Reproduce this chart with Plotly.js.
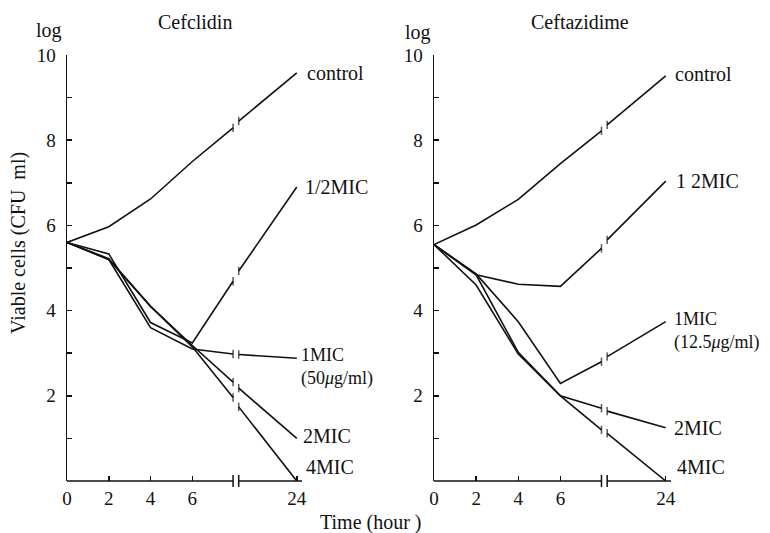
<!DOCTYPE html>
<html><head><meta charset="utf-8">
<script src="https://cdn.plot.ly/plotly-3.0.1.min.js"></script>
<style>html,body{margin:0;padding:0;background:#fff}</style>
</head><body><div id="chart" style="width:770px;height:533px"></div>
<script>
// ---- data ----
const hours = [0, 2, 4, 6, 24];
const hourLabels = ['0', '2', '4', '6', '24'];
const seriesNames = ['control', '1/2MIC', '1MIC', '2MIC', '4MIC'];

// Cefclidin (log CFU/ml)
const cefControl = [5.6, 5.97, 6.62, 7.5, 9.58];
const cefHalfMIC = [5.6, 5.33, 3.72, 3.24, 6.9];
const cef1MIC    = [5.6, 5.2, 3.6, 3.1, 2.88];
const cef2MIC    = [5.6, 5.22, 4.1, 3.18, 1.0];
const cef4MIC    = [5.6, 5.2, 4.1, 3.15, 0.0];
// values where each line meets the axis break (left side, right side)
const cefBreakLeft  = [8.29, 4.69, 2.98, 2.32, 1.96];
const cefBreakRight = [8.45, 4.93, 2.97, 2.18, 1.74];
const cefLabels = ['control', '1/2MIC', '1MIC<br>(50<i>μ</i>g/ml)', '2MIC', '4MIC'];

// Ceftazidime (log CFU/ml)
const cazControl = [5.55, 6.01, 6.61, 7.45, 9.51];
const cazHalfMIC = [5.55, 4.84, 4.62, 4.57, 7.04];
const caz1MIC    = [5.55, 4.86, 3.74, 2.29, 3.74];
const caz2MIC    = [5.55, 4.84, 3.02, 2.0, 1.25];
const caz4MIC    = [5.55, 4.6, 2.98, 2.0, 0.0];
const cazBreakLeft  = [8.22, 5.46, 2.8, 1.71, 1.2];
const cazBreakRight = [8.36, 5.66, 2.92, 1.64, 1.12];
const cazLabels = ['control', '1 2MIC', '1MIC<br>(12.5<i>μ</i>g/ml)', '2MIC', '4MIC'];

const yTickVals = [1, 2, 3, 4, 5, 6, 7, 8, 9, 10];
const yTickText = ['', '2', '', '4', '', '6', '', '8', '', '10'];

// ---- broken time axis: 0-6 h linear, then a break, then 24 h ----
const AX_END = 11.25;
const BREAK_L = 7.95, BREAK_R = 8.22;
function axisPos(h) { return h <= 6 ? h : 11; }

const FONT = 'Liberation Serif, Times New Roman, serif';
const INK = '#111';

function seriesTrace(vals, bL, bR, xa, ya) {
  const p = hours.map(axisPos);
  return {
    type: 'scatter', mode: 'lines+markers', xaxis: xa, yaxis: ya,
    x: [p[0], p[1], p[2], p[3], BREAK_L, null, BREAK_R, p[4]],
    y: [vals[0], vals[1], vals[2], vals[3], bL, null, bR, vals[4]],
    connectgaps: false, cliponaxis: false, hoverinfo: 'skip', showlegend: false,
    line: {color: INK, width: 1.6},
    marker: {symbol: 'line-ns-open', size: [0, 0, 0, 0, 6, 0, 6, 0],
             color: INK, line: {color: INK, width: 1.5}}
  };
}

const cefSeries = [cefControl, cefHalfMIC, cef1MIC, cef2MIC, cef4MIC];
const cazSeries = [cazControl, cazHalfMIC, caz1MIC, caz2MIC, caz4MIC];
const traces = [];
cefSeries.forEach((s, i) => traces.push(seriesTrace(s, cefBreakLeft[i], cefBreakRight[i], 'x', 'y')));
cazSeries.forEach((s, i) => traces.push(seriesTrace(s, cazBreakLeft[i], cazBreakRight[i], 'x2', 'y2')));

function xAxis(domain, anchor) {
  return {
    domain: domain, anchor: anchor, range: [0, AX_END], showline: false, zeroline: false,
    showgrid: false, tickmode: 'array', tickvals: hours.map(axisPos), ticktext: hourLabels,
    ticks: 'inside', ticklen: 5, tickwidth: 1.5, tickcolor: INK,
    tickfont: {family: FONT, size: 19, color: INK}, ticklabelstandoff: 4, fixedrange: true
  };
}
function yAxis(anchor) {
  return {
    domain: [52 / 533, 478 / 533], anchor: anchor, range: [0, 10], showline: true,
    linecolor: INK, linewidth: 1.5, zeroline: false, showgrid: false,
    tickmode: 'array', tickvals: yTickVals, ticktext: yTickText,
    ticks: 'inside', ticklen: 5, tickwidth: 1.5, tickcolor: INK,
    tickfont: {family: FONT, size: 19, color: INK}, ticklabelstandoff: 6, fixedrange: true
  };
}

function breakShapes(xs, ys) {
  const xr = xs + ' domain', yr = ys + ' domain';
  const l = BREAK_L / AX_END, r = BREAK_R / AX_END, h = 0.014;
  const ln = {color: INK, width: 1.5};
  return [
    {type: 'line', xref: xr, yref: yr, x0: 0, x1: l, y0: 0, y1: 0, line: ln},
    {type: 'line', xref: xr, yref: yr, x0: r, x1: 1, y0: 0, y1: 0, line: ln},
    {type: 'line', xref: xr, yref: yr, x0: l, x1: l, y0: -h, y1: h, line: ln},
    {type: 'line', xref: xr, yref: yr, x0: r, x1: r, y0: -h, y1: h, line: ln}
  ];
}

function labelAnn(text, x, y, xa, ya, xshift, yshift, size) {
  return {text: text, x: x, y: y, xref: xa, yref: ya, xanchor: 'left', yanchor: 'middle',
          align: 'left', xshift: xshift, yshift: yshift, showarrow: false,
          font: {family: FONT, size: size || 20, color: INK}};
}
function paperAnn(text, px, py, extra) {
  return Object.assign({text: text, x: px / 770, y: 1 - py / 533, xref: 'paper', yref: 'paper',
          xanchor: 'center', yanchor: 'middle', showarrow: false,
          font: {family: FONT, size: 20, color: INK}}, extra || {});
}

const endX = axisPos(24);
const annotations = [
  paperAnn('Cefclidin', 195, 22),
  paperAnn('Ceftazidime', 580, 22),
  paperAnn('log', 49, 30),
  paperAnn('log', 418, 32),
  paperAnn('Viable cells (CFU  ml)', 18, 243, {textangle: -90}),
  paperAnn('Time (hour )', 370, 522),
  // Cefclidin labels
  labelAnn(cefLabels[0], endX, cefControl[4], 'x', 'y', 8, 0),
  labelAnn(cefLabels[1], endX, cefHalfMIC[4], 'x', 'y', 6, 0),
  labelAnn(cefLabels[2], endX, cef1MIC[4], 'x', 'y', 2, -9, 18),
  labelAnn(cefLabels[3], endX, cef2MIC[4], 'x', 'y', 4, 2),
  labelAnn(cefLabels[4], endX, cef4MIC[4], 'x', 'y', 7, 14),
  // Ceftazidime labels
  labelAnn(cazLabels[0], endX, cazControl[4], 'x2', 'y2', 7, 2),
  labelAnn(cazLabels[1], endX, cazHalfMIC[4], 'x2', 'y2', 8, 0),
  labelAnn(cazLabels[2], endX, caz1MIC[4], 'x2', 'y2', 6, -9, 18),
  labelAnn(cazLabels[3], endX, caz2MIC[4], 'x2', 'y2', 6, 0),
  labelAnn(cazLabels[4], endX, caz4MIC[4], 'x2', 'y2', 9, 14)
];

const layout = {
  width: 770, height: 533, margin: {l: 0, r: 0, t: 0, b: 0, pad: 0},
  paper_bgcolor: '#fff', plot_bgcolor: 'rgba(0,0,0,0)', showlegend: false,
  font: {family: FONT, color: INK},
  xaxis: xAxis([67 / 770, 302 / 770], 'y'),
  yaxis: yAxis('x'),
  xaxis2: xAxis([434 / 770, 671 / 770], 'y2'),
  yaxis2: yAxis('x2'),
  shapes: breakShapes('x', 'y').concat(breakShapes('x2', 'y2')),
  annotations: annotations
};

Plotly.newPlot('chart', traces, layout, {staticPlot: true, displayModeBar: false});
</script>
</body></html>
